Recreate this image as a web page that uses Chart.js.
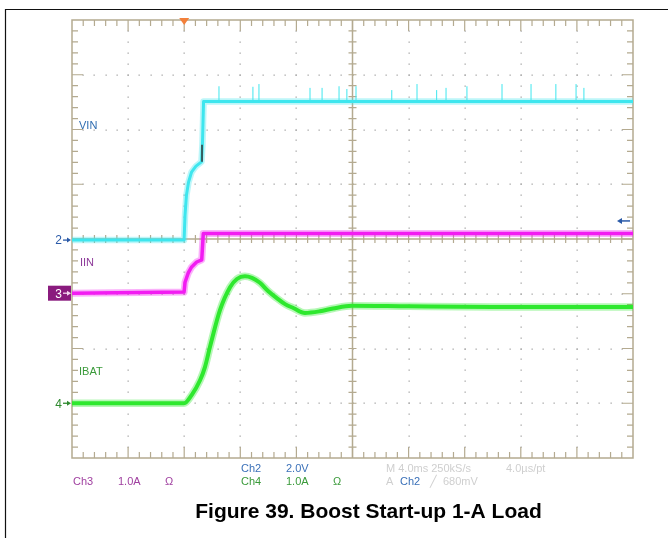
<!DOCTYPE html>
<html>
<head>
<meta charset="utf-8">
<script src="https://cdn.jsdelivr.net/npm/chart.js@4.4.1/dist/chart.umd.min.js"></script>
<style>
  body { margin: 0; background: #fff; }
  #wrap { position: relative; width: 668px; height: 538px; }
</style>
</head>
<body>
<div id="wrap"><canvas id="scope" width="668" height="538"></canvas></div>
<script>
// time in ms from the left graticule edge (4 ms/div), level in divisions from the bottom
var timeDivs = [0, 4, 8, 12, 16, 20, 24, 28, 32, 36, 40];
var levelDivs = [0, 1, 2, 3, 4, 5, 6, 7, 8];

// Ch2 - VIN
var vinTime  = [0, 7.99, 8.06, 8.16, 8.31, 8.52, 8.84, 9.23, 9.30, 9.38, 40];
var vinLevel = [3.98, 3.98, 4.44, 4.80, 5.04, 5.22, 5.33, 5.41, 5.72, 6.51, 6.51];
// the short dark piece in the VIN edge
var vinGapTime  = [9.27, 9.27];
var vinGapLevel = [5.41, 5.72];
// spikes riding on VIN
var vinSpikeTime = [10.48, 12.9, 13.33, 16.97, 17.83, 19.04, 19.6, 20.25, 22.8, 24.6, 26.0, 26.67, 28.16, 30.66, 32.73, 34.5, 35.94, 36.5];
var vinSpikeTop  = [6.79, 6.78, 6.83, 6.76, 6.76, 6.79, 6.74, 6.79, 6.72, 6.83, 6.72, 6.76, 6.79, 6.83, 6.83, 6.83, 6.83, 6.76];

// Ch3 - IIN
var iinTime  = [0, 7.99, 8.06, 8.29, 8.53, 8.89, 9.25, 9.36, 40];
var iinLevel = [3.01, 3.03, 3.21, 3.38, 3.49, 3.58, 3.62, 4.10, 4.10];

// Ch4 - IBAT
var ibatTime  = [0, 7.99, 8.53, 9.13, 9.48, 9.84, 10.55, 11.27, 11.76, 12.33, 12.83, 13.40, 13.98, 14.60, 15.19, 15.78, 16.61, 17.68, 18.61, 19.96, 24, 30, 36, 40];
var ibatLevel = [1.0, 1.0, 1.15, 1.42, 1.66, 2.03, 2.70, 3.12, 3.27, 3.32, 3.29, 3.20, 3.05, 2.92, 2.81, 2.74, 2.65, 2.68, 2.73, 2.78, 2.77, 2.76, 2.76, 2.76];

var triggerTime = 8;
var triggerLevel = 4.33;

function pairs(xs, ys) {
  return xs.map(function(x, i) { return { x: x, y: ys[i] }; });
}

function spikes(xs, tops, base) {
  var out = [];
  xs.forEach(function(x, i) {
    out.push({ x: x, y: base }, { x: x, y: tops[i] }, { x: x, y: null });
  });
  return out;
}

var FONT = "'Liberation Sans', Arial, sans-serif";
var TAN = '#b4aa90';

var scopePlugin = {
  id: 'scope',
  beforeDatasetsDraw: function(chart) {
    var ctx = chart.ctx, xs = chart.scales.x, ys = chart.scales.y;
    var L = xs.getPixelForValue(0), R = xs.getPixelForValue(40);
    var T = ys.getPixelForValue(8), B = ys.getPixelForValue(0);
    var cx = xs.getPixelForValue(20), cy = ys.getPixelForValue(4);
    ctx.save();
    // dotted graticule
    ctx.fillStyle = '#a9a9a9';
    timeDivs.forEach(function(t) {
      if (t === 0 || t === 20 || t === 40) return;
      var x = xs.getPixelForValue(t);
      for (var k = 1; k < 40; k++) {
        ctx.fillRect(Math.round(x) - 0.5, Math.round(ys.getPixelForValue(k * 0.2)) - 0.5, 1.3, 1.3);
      }
    });
    levelDivs.forEach(function(v) {
      if (v === 0 || v === 4 || v === 8) return;
      var y = ys.getPixelForValue(v);
      for (var k = 1; k < 50; k++) {
        ctx.fillRect(Math.round(xs.getPixelForValue(k * 0.8)) - 0.5, Math.round(y) - 0.5, 1.3, 1.3);
      }
    });
    // frame, centre cross and ticks
    ctx.strokeStyle = TAN;
    ctx.lineWidth = 1.5;
    ctx.strokeRect(L, T, R - L, B - T);
    ctx.beginPath();
    ctx.moveTo(cx, T); ctx.lineTo(cx, B);
    ctx.moveTo(L, cy); ctx.lineTo(R, cy);
    ctx.stroke();
    ctx.lineWidth = 1.2;
    ctx.beginPath();
    for (var i = 1; i < 50; i++) {
      var x = xs.getPixelForValue(i * 0.8);
      var len = (i % 5 === 0) ? 11 : 6;
      ctx.moveTo(x, T); ctx.lineTo(x, T + len);
      ctx.moveTo(x, B); ctx.lineTo(x, B - len);
      ctx.moveTo(x, cy - 4); ctx.lineTo(x, cy + 4);
    }
    for (var j = 1; j < 40; j++) {
      var y = ys.getPixelForValue(j * 0.2);
      var ln = (j % 5 === 0) ? 11 : 6;
      ctx.moveTo(L, y); ctx.lineTo(L + ln, y);
      ctx.moveTo(R, y); ctx.lineTo(R - ln, y);
      ctx.moveTo(cx - 4, y); ctx.lineTo(cx + 4, y);
    }
    ctx.stroke();
    ctx.restore();
  },
  afterDraw: function(chart) {
    var ctx = chart.ctx, xs = chart.scales.x, ys = chart.scales.y;
    var L = xs.getPixelForValue(0), R = xs.getPixelForValue(40), T = ys.getPixelForValue(8);
    ctx.save();

    // outer figure border
    ctx.strokeStyle = '#111';
    ctx.lineWidth = 1.2;
    ctx.beginPath();
    ctx.moveTo(5.5, 538); ctx.lineTo(5.5, 9.5); ctx.lineTo(668, 9.5);
    ctx.stroke();

    // trigger position marker
    var tx = xs.getPixelForValue(triggerTime);
    ctx.fillStyle = '#f3803a';
    ctx.beginPath();
    ctx.moveTo(tx - 5, T - 2); ctx.lineTo(tx + 5, T - 2); ctx.lineTo(tx, T + 5);
    ctx.closePath(); ctx.fill();

    // trigger level arrow on the right
    var ty = ys.getPixelForValue(triggerLevel);
    ctx.strokeStyle = '#2a5aa8'; ctx.fillStyle = '#2a5aa8'; ctx.lineWidth = 1.5;
    ctx.beginPath(); ctx.moveTo(R - 3, ty); ctx.lineTo(R - 13, ty); ctx.stroke();
    ctx.beginPath(); ctx.moveTo(R - 16, ty); ctx.lineTo(R - 11, ty - 3); ctx.lineTo(R - 11, ty + 3); ctx.closePath(); ctx.fill();

    function arrowRight(y, color) {
      ctx.strokeStyle = color; ctx.fillStyle = color; ctx.lineWidth = 1.3;
      ctx.beginPath(); ctx.moveTo(L - 9, y); ctx.lineTo(L - 3, y); ctx.stroke();
      ctx.beginPath(); ctx.moveTo(L - 1, y); ctx.lineTo(L - 5, y - 2.5); ctx.lineTo(L - 5, y + 2.5); ctx.closePath(); ctx.fill();
    }
    ctx.textBaseline = 'middle';
    ctx.font = '12px ' + FONT;

    // channel ground markers
    var y2 = ys.getPixelForValue(vinLevel[0]);
    ctx.fillStyle = '#2a5aa8'; ctx.textAlign = 'right';
    ctx.fillText('2', L - 10, y2 + 1);
    arrowRight(y2, '#2a5aa8');

    var y3 = ys.getPixelForValue(iinLevel[0]);
    ctx.fillStyle = '#8a1b7e';
    ctx.fillRect(L - 24, y3 - 7.5, 23, 15);
    ctx.fillStyle = '#fff';
    ctx.fillText('3', L - 10, y3 + 1);
    arrowRight(y3, '#f4d8f0');

    var y4 = ys.getPixelForValue(ibatLevel[0]);
    ctx.fillStyle = '#2f8a2f';
    ctx.fillText('4', L - 10, y4 + 1);
    arrowRight(y4, '#2f8a2f');

    // trace labels
    ctx.textAlign = 'left';
    ctx.font = '11px ' + FONT;
    ctx.fillStyle = '#2e6cb0'; ctx.fillText('VIN', L + 7, 126);
    ctx.fillStyle = '#8e3a9a'; ctx.fillText('IIN', L + 8, 263);
    ctx.fillStyle = '#3a9a3a'; ctx.fillText('IBAT', L + 7, 372);

    // readout lines under the graticule
    var r1 = 469, r2 = 482;
    ctx.fillStyle = '#a040a0';
    ctx.fillText('Ch3', 73, r2); ctx.fillText('1.0A', 118, r2); ctx.fillText('\u03A9', 165, r2);
    ctx.fillStyle = '#3a70b8';
    ctx.fillText('Ch2', 241, r1); ctx.fillText('2.0V', 286, r1);
    ctx.fillStyle = '#3a9a3a';
    ctx.fillText('Ch4', 241, r2); ctx.fillText('1.0A', 286, r2); ctx.fillText('\u03A9', 333, r2);
    ctx.fillStyle = '#cfcfcf';
    ctx.fillText('M 4.0ms 250kS/s', 386, r1); ctx.fillText('4.0\u00B5s/pt', 506, r1);
    ctx.fillText('A', 386, r2); ctx.fillText('\u2571', 430, r2); ctx.fillText('680mV', 443, r2);
    ctx.fillStyle = '#3a70b8';
    ctx.fillText('Ch2', 400, r2);

    // caption
    ctx.fillStyle = '#000';
    ctx.textAlign = 'center';
    ctx.font = 'bold 21px ' + FONT;
    ctx.fillText('Figure 39. Boost Start-up 1-A Load', 368.5, 512);
    ctx.restore();
  }
};

var chart = new Chart(document.getElementById('scope'), {
  type: 'line',
  data: {
    datasets: [
      { label: 'VIN gap', data: pairs(vinGapTime, vinGapLevel), borderColor: '#333', borderWidth: 1.5, order: 0 },
      { label: 'VIN spikes', data: spikes(vinSpikeTime, vinSpikeTop, vinLevel[vinLevel.length - 1]), borderColor: '#3ee6ee', borderWidth: 1, spanGaps: false, order: 1 },
      { label: 'VIN', data: pairs(vinTime, vinLevel), borderColor: '#3ee6ee', borderWidth: 3, order: 2 },
      { label: 'VIN haze', data: pairs(vinTime, vinLevel), borderColor: 'rgba(62,230,238,0.35)', borderWidth: 6.5, order: 3 },
      { label: 'IIN', data: pairs(iinTime, iinLevel), borderColor: '#f21cf2', borderWidth: 3.5, order: 4 },
      { label: 'IIN haze', data: pairs(iinTime, iinLevel), borderColor: 'rgba(242,28,242,0.35)', borderWidth: 7, order: 5 },
      { label: 'IBAT', data: pairs(ibatTime, ibatLevel), borderColor: '#2ee82e', borderWidth: 4, cubicInterpolationMode: 'monotone', order: 6 },
      { label: 'IBAT haze', data: pairs(ibatTime, ibatLevel), borderColor: 'rgba(46,232,46,0.35)', borderWidth: 7.5, cubicInterpolationMode: 'monotone', order: 7 }
    ]
  },
  options: {
    responsive: false,
    animation: false,
    layout: { padding: { left: 72, top: 20, right: 35, bottom: 80 } },
    elements: { point: { radius: 0 }, line: { borderCapStyle: 'butt', borderJoinStyle: 'round' } },
    scales: {
      x: { type: 'linear', min: 0, max: 40, display: false },
      y: { type: 'linear', min: 0, max: 8, display: false }
    },
    plugins: { legend: { display: false }, tooltip: { enabled: false } }
  },
  plugins: [scopePlugin]
});
</script>
</body>
</html>
